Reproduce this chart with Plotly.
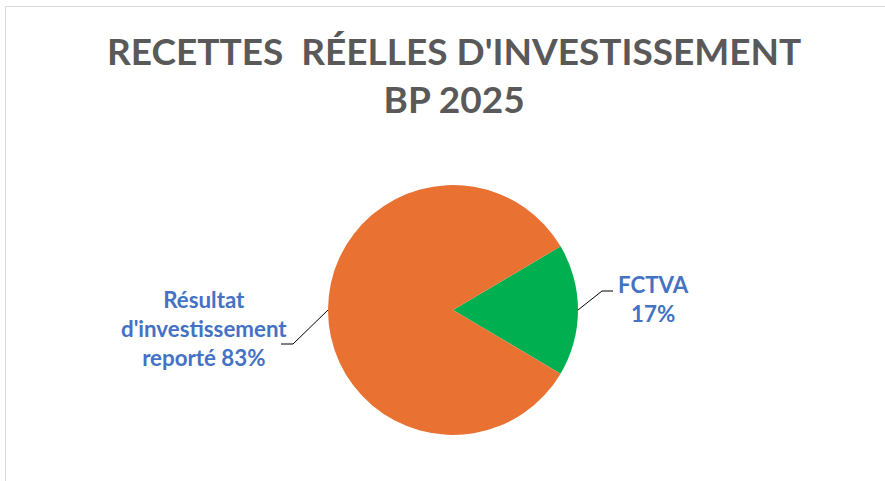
import math
import plotly.graph_objects as go

# ---- data ----
categories = ["FCTVA", "Résultat d'investissement reporté"]
values = [17, 83]
label_texts = ["FCTVA<br>17%", "Résultat<br>d'investissement<br>reporté 83%"]
colors = ["#00B050", "#E97132"]
title_text = "RECETTES  RÉELLES D'INVESTISSEMENT<br>BP 2025"

# ---- layout geometry (pixels) ----
W, H = 885, 481
cx, cy, R = 453, 310, 125

def px(x):
    return x / W

def py(y):
    return 1 - y / H

total = sum(values)
first_frac = values[0] / total
rotation = 90 - first_frac * 360 / 2

fig = go.Figure(go.Pie(
    labels=categories,
    values=values,
    sort=False,
    direction="clockwise",
    rotation=rotation,
    marker=dict(colors=colors, line=dict(width=0)),
    textinfo="none",
    hoverinfo="label+percent",
    showlegend=False,
    domain=dict(x=[px(cx - R), px(cx + R)], y=[py(cy + R), py(cy - R)]),
))

# mid angles (clockwise from 12 o'clock) for leader line start points
mids = []
acc = rotation
for v in values:
    span = v / total * 360
    mids.append(acc + span / 2)
    acc += span

def edge_point(angle_cw):
    a = math.radians(angle_cw)
    return cx + R * math.sin(a), cy - R * math.cos(a)

label_font = dict(family="Lato", size=22.3, color="#4472C4")
elbows = [((602, 291), (613, 291)), ((293, 344), (281, 344))]
label_pos = [(653, 299, "center"), (204, 328, "center")]

shapes = []
annotations = []
for i in range(len(values)):
    ex, ey = edge_point(mids[i])
    (bx, by), (tx, ty) = elbows[i]
    shapes.append(dict(type="path", xref="paper", yref="paper",
                       path=f"M {px(ex)} {py(ey)} L {px(bx)} {py(by)} L {px(tx)} {py(ty)}",
                       line=dict(color="#000000", width=1)))
    lx, ly, al = label_pos[i]
    annotations.append(dict(x=px(lx), y=py(ly), xref="paper", yref="paper",
                            text=f"<b>{label_texts[i]}</b>", showarrow=False,
                            xanchor="center", yanchor="middle", align="center",
                            font=label_font))

annotations.append(dict(x=px(454), y=py(74), xref="paper", yref="paper",
                        text=f"<b>{title_text}</b>", showarrow=False,
                        xanchor="center", yanchor="middle", align="center",
                        font=dict(family="Lato", size=37, color="#595959")))

# chart border (top and left edges visible)
shapes.append(dict(type="rect", xref="paper", yref="paper",
                   x0=px(5.5), x1=1.3, y0=-0.3, y1=py(6.5),
                   line=dict(color="#D9D9D9", width=1), layer="below"))

fig.update_layout(
    width=W, height=H,
    margin=dict(l=0, r=0, t=0, b=0),
    paper_bgcolor="white", plot_bgcolor="white",
    shapes=shapes, annotations=annotations,
)

fig.write_html("out.html",
               config={"displayModeBar": False},
               post_script="document.body.style.margin='0';document.body.style.overflow='hidden';")
